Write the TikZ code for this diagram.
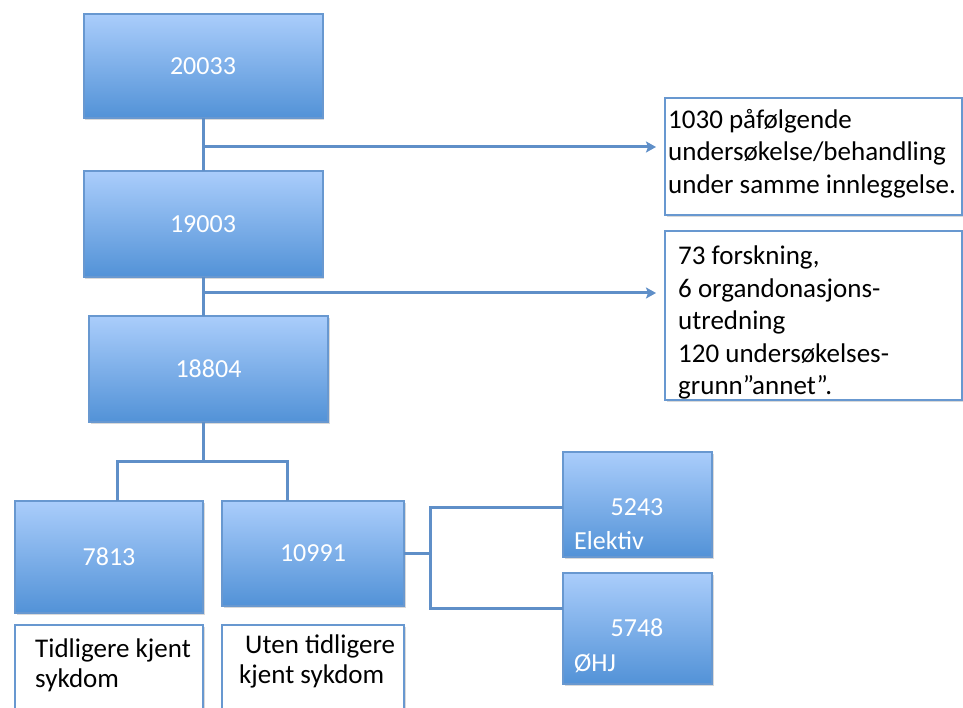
\documentclass[tikz,border=0pt]{standalone}
\usepackage{fontspec}
\setmainfont{Carlito}
\usetikzlibrary{arrows.meta,shadows}

\definecolor{boxtop}{RGB}{170,205,251}
\definecolor{boxbot}{RGB}{82,146,215}
\definecolor{boxline}{RGB}{104,152,208}
\definecolor{linkblue}{RGB}{95,143,200}

\tikzset{
  numbox/.style={draw=boxline, line width=2pt, top color=boxtop, bottom color=boxbot,
    text=white, inner sep=0pt, outer sep=0pt, font=\fontsize{26}{31}\selectfont,
    drop shadow={opacity=0.3, shadow xshift=1.5pt, shadow yshift=-2pt}},
  notebox/.style={draw=boxline, line width=2pt, fill=white, inner sep=0pt, outer sep=0pt,
    drop shadow={opacity=0.3, shadow xshift=1.5pt, shadow yshift=-2pt}},
  notetext/.style={align=left, inner sep=0pt, anchor=north west, font=\fontsize{27}{32.5}\selectfont},
  whitetext/.style={text=white, font=\fontsize{26}{31}\selectfont},
  link/.style={draw=linkblue, line width=3pt},
  pil/.style={link, -{Stealth[length=10pt, width=11pt, inset=2pt]}}
}

\begin{document}
\begin{tikzpicture}[x=1pt, y=-1pt]
  \useasboundingbox (0,0) rectangle (963,708);

  % hovedkjeden
  \node[numbox, minimum width=239pt, minimum height=104pt] (n20033) at (203,66) {20033};
  \node[numbox, minimum width=239pt, minimum height=106pt] (n19003) at (203,224) {19003};
  \node[numbox, minimum width=239pt, minimum height=106pt] (n18804) at (208.5,369) {18804};

  % utelatte
  \node[notebox, minimum width=297pt, minimum height=117pt] (note1) at (813.5,156.5) {};
  \node[notetext] at (668,109) {1030 påfølgende\\undersøkelse/behandling\\under samme innleggelse.};
  \node[notebox, minimum width=297pt, minimum height=169pt] (note2) at (813.5,315.5) {};
  \node[notetext] at (678,246) {73 forskning,\\6 organdonasjons-\\utredning\\120 undersøkelses-\\grunn”annet”.};

  % inndeling
  \node[numbox, minimum width=188pt, minimum height=112pt] (n7813) at (109,557) {7813};
  \node[numbox, minimum width=182pt, minimum height=105pt] (n10991) at (313,553.5) {10991};
  \node[notebox, minimum width=188pt, minimum height=110pt] (note3) at (109,680) {};
  \node[notetext, font=\fontsize{27}{30}\selectfont] at (35,639) {Tidligere kjent\\sykdom};
  \node[notebox, minimum width=182pt, minimum height=110pt] (note4) at (313,680) {};
  \node[notetext, font=\fontsize{27}{30}\selectfont] at (239,635) {\hspace{6pt}Uten tidligere\\kjent sykdom};

  \node[numbox, minimum width=149pt, minimum height=105pt] (n5243) at (637.5,504.5) {};
  \node[whitetext] at (637,507) {5243};
  \node[whitetext, anchor=west, inner sep=0pt] at (574,541) {Elektiv};
  \node[numbox, minimum width=149pt, minimum height=111pt] (n5748) at (637.5,628.5) {};
  \node[whitetext] at (637,628) {5748};
  \node[whitetext, anchor=west, inner sep=0pt] at (574,663) {ØHJ};

  % linjer
  \coordinate (t1) at (203,147);
  \coordinate (t2) at (203,293);
  \draw[link] (n20033) -- (n19003);
  \draw[link] (n19003) -- (n19003.south |- n18804.north);
  \draw[pil, shorten >=9pt] (t1) -- (t1 -| note1.west);
  \draw[pil, shorten >=9pt] (t2) -- (t2 -| note2.west);

  \coordinate (b0) at (203,461);
  \coordinate (bl) at (117,461);
  \coordinate (br) at (287,461);
  \draw[link] (n18804.south -| b0) -- (b0);
  \draw[link] (n7813.north -| bl) -- (bl) -- (br) -- (n10991.north -| br);

  \coordinate (c0) at (430,553);
  \coordinate (c1) at (430,507);
  \coordinate (c2) at (430,608);
  \draw[link] (n10991.east |- c0) -- (c0);
  \draw[link] (n5243.west |- c1) -- (c1) -- (c2) -- (n5748.west |- c2);
\end{tikzpicture}
\end{document}
